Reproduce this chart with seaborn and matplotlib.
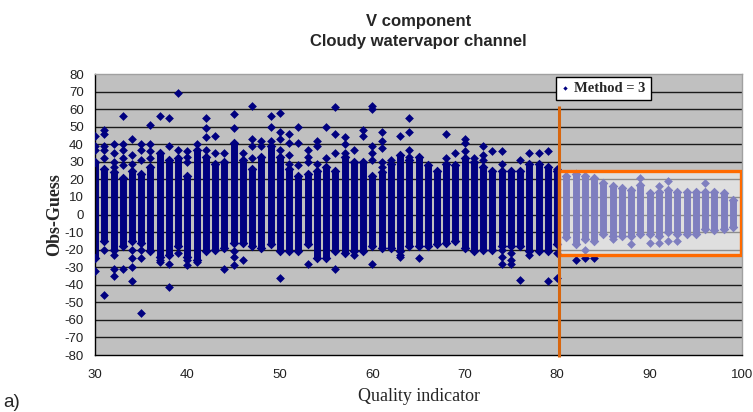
import matplotlib
matplotlib.use("Agg")
import matplotlib.pyplot as plt
import seaborn as sns
import pandas as pd
from matplotlib.patches import Rectangle

# ---- data ----
quality = list(range(30, 100))
dense_high = [30, 26, 24, 21, 25, 23, 27, 35, 31, 32,
              22, 37, 33, 29, 30, 41, 31, 26, 33, 39,
              33, 26, 22, 23, 25, 27, 25, 33, 30, 30,
              22, 24, 29, 34, 31, 33, 28, 25, 29, 28,
              32, 30, 27, 25, 25, 25, 25, 29, 29, 27,
              25, 22, 23, 22, 21, 18, 16, 15, 14, 17,
              12, 13, 14, 13, 13, 13, 13, 13, 12, 8]
dense_low = [-25, -15, -20, -18, -15, -16, -21, -24, -23, -18,
             -24, -26, -21, -20, -19, -16, -16, -18, -19, -17,
             -21, -21, -21, -17, -25, -25, -21, -22, -21, -21,
             -18, -19, -19, -21, -18, -18, -18, -17, -16, -15,
             -19, -21, -20, -20, -18, -18, -18, -21, -21, -21,
             -17, -13, -17, -14, -15, -11, -12, -12, -12, -11,
             -11, -12, -10, -11, -11, -11, -8, -9, -8, -7]

single_q = [30, 30, 30, 30,
            31, 31, 31, 31, 31, 31, 31,
            32, 32, 32, 32, 32, 32, 32,
            33, 33, 33, 33, 33, 33,
            34, 34, 34, 34, 34, 34, 34,
            35, 35, 35, 35, 35, 35,
            36, 36, 36, 36,
            37, 37, 37,
            38, 38, 38, 38,
            39, 39, 39,
            40, 40, 40, 40, 40,
            41, 41,
            42, 42, 42, 42,
            43, 43,
            44, 44,
            45, 45, 45, 45, 45,
            46, 46,
            47, 47, 47, 47,
            48, 48,
            49, 49, 49,
            50, 50, 50, 50, 50,
            51, 51, 51, 51,
            52, 52, 52,
            53, 53, 53, 53,
            54, 54, 54,
            55, 55,
            56, 56, 56, 56,
            57, 57, 57,
            58, 58,
            59, 59,
            60, 60, 60, 60, 60, 60,
            61, 61, 61, 61, 61,
            62,
            63, 63, 63,
            64, 64, 64, 64,
            65,
            68, 68,
            69,
            70, 70, 70,
            71,
            72, 72, 72,
            73,
            74, 74, 74, 74, 74,
            75, 75, 75,
            76, 76,
            77, 77,
            78,
            79, 79,
            80, 80, 80,
            82, 83, 83, 84, 86, 88, 89, 90, 91, 91, 92, 92, 93, 96]
single_v = [45, 39, 37, -32,
            48, 46, 39, 37, 32, -20, -46,
            40, 35, 30, 27, -23, -31, -35,
            56, 40, 37, 32, 28, -31,
            43, 34, 29, -20, -25, -30, -38,
            40, 37, 31, -20, -25, -56,
            51, 40, 36, 32,
            56, -26, -27,
            55, 39, -28, -41,
            69, 37, -22,
            36, 33, 30, -26, -29,
            40, -27,
            55, 49, 44, 37,
            45, 35,
            35, -31,
            57, 49, -21, -24, -29,
            35, -26,
            62, 43, 39, 32,
            42, 39,
            56, 50, 42,
            58, 47, 43, 37, -36,
            46, 41, 34, 29,
            50, 41, 28,
            37, 33, 30, -28,
            42, 39, 29,
            50, 32,
            61, 46, 35, -31,
            44, 40, 35,
            37, -23,
            48, 45,
            62, 60, 39, 35, 31, -28,
            47, 42, 38, 30, 27,
            31,
            45, -23, -24,
            55, 47, 37, 33,
            -25,
            46, 32,
            35,
            43, 41, 36,
            32,
            39, 34, 31,
            36,
            36, 29, -20, -24, -28,
            -22, -26, -28,
            31, -37,
            35, -23,
            35,
            36, -38,
            26, -22, -36,
            -26, -20, -25, -25, -14, -17, 21, -16, 16, -16, 19, -15, -15, 18]

x_ticks = [30, 40, 50, 60, 70, 80, 90, 100]
y_ticks = list(range(-80, 81, 10))
legend_label = "Method = 3"
cutoff_q = 80.2
box_q = (80.2, 99.9)
box_v = (-23, 25)
line_top = 62

NAVY = "#000080"

sns.set_style("white")
plt.rcParams["font.family"] = ["Liberation Sans", "DejaVu Sans"]
plt.rcParams["axes.unicode_minus"] = False

fig = plt.figure(figsize=(7.53, 4.12), dpi=100)
ax = fig.add_axes([0.1262, 0.1383, 0.8592, 0.6820])
ax.set_facecolor("#c0c0c0")

# grid
for v in y_ticks[1:-1]:
    ax.axhline(v, color="#1a1a1a", lw=1.0, zorder=1)

# dense cores of each column
ax.vlines(quality, dense_low, dense_high, color=NAVY, lw=5.0, zorder=2)

ends = pd.DataFrame({"q": quality + quality, "v": dense_low + dense_high})
sns.scatterplot(data=ends, x="q", y="v", marker="D", color=NAVY, s=24,
                linewidth=0, ax=ax, zorder=3, legend=False)
singles = pd.DataFrame({"q": single_q, "v": single_v})
sns.scatterplot(data=singles, x="q", y="v", marker="D", color=NAVY, s=20,
                linewidth=0, ax=ax, zorder=3, label=legend_label)

# highlighted region overlay
ax.add_patch(Rectangle((box_q[0], box_v[0]), box_q[1] - box_q[0], box_v[1] - box_v[0],
                       facecolor="white", alpha=0.5, edgecolor="none", zorder=4))
ax.add_patch(Rectangle((box_q[0], box_v[0]), box_q[1] - box_q[0], box_v[1] - box_v[0],
                       facecolor="none", edgecolor="#ff6a00", lw=2.4, zorder=5))
ax.plot([cutoff_q, cutoff_q], [-81, line_top], color="#d8660e", lw=2.2,
        zorder=5, clip_on=False, solid_capstyle="butt")

ax.set_xlim(30, 100)
ax.set_ylim(-80, 80)
ax.set_xticks(x_ticks)
ax.set_yticks(y_ticks)
ax.tick_params(axis="both", direction="out", length=4, width=1, color="black",
               labelsize=9.5, labelcolor="#222222", pad=4)
ax.tick_params(axis="x", pad=6)

for side in ["left", "bottom"]:
    ax.spines[side].set_color("black")
    ax.spines[side].set_linewidth(1.0)
for side in ["top", "right"]:
    ax.spines[side].set_color("#a0a0a0")
    ax.spines[side].set_linewidth(1.0)

ax.set_xlabel("Quality indicator", family=["Liberation Serif"], fontsize=13, labelpad=5)
ax.set_ylabel("Obs-Guess", family=["Liberation Serif"], fontsize=13, fontweight="bold", labelpad=1)
ax.set_title("V component\nCloudy watervapor channel", fontsize=12,
             fontweight="bold", pad=20, linespacing=1.45)

leg = ax.legend(loc="upper left", bbox_to_anchor=(0.7125, 0.99), borderaxespad=0,
                frameon=True, fancybox=False, framealpha=1, edgecolor="black",
                prop={"family": "Liberation Serif", "weight": "bold", "size": 10.5},
                handlelength=0.6, handletextpad=0.3, borderpad=0.35, markerscale=0.5)
leg.set_zorder(10)
leg.get_frame().set_linewidth(1.0)

fig.text(0.004, 0.012, "a)", fontsize=13.5)

fig.savefig("out.png", dpi=100)
